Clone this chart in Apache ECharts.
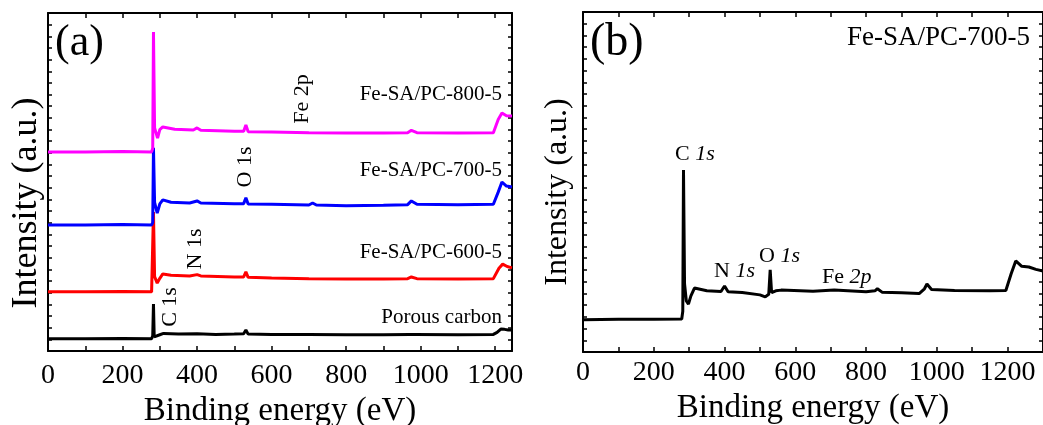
<!DOCTYPE html>
<html>
<head>
<meta charset="utf-8">
<script src="https://cdn.jsdelivr.net/npm/echarts@6/dist/echarts.min.js"></script>
<style>
html, body { margin: 0; padding: 0; background: #fff; }
#chart { width: 1043px; height: 425px; }
</style>
</head>
<body>
<div id="chart"></div>
<script>
// panel (a): survey spectra, stacked, [binding energy, intensity]
const porousCarbon = [[0,3.6],[100,3.6],[200,3.7],[278,3.6],[281,4.5],[283,13.9],[285,4.2],[290,4.0],[300,4.8],[310,5.2],[350,5.0],[400,5.1],[450,4.9],[500,5.0],[525,5.1],[531,6.2],[537,5.0],[600,4.9],[700,4.9],[800,4.8],[900,4.8],[970,4.9],[975,5.3],[985,4.9],[1100,4.8],[1195,4.9],[1205,5.5],[1215,6.5],[1225,6.4],[1235,6.2],[1245,6.2]]
const fe600 = [[0,17.5],[100,17.5],[200,17.6],[278,17.5],[281,18],[283,41.1],[286,22],[293,20.1],[300,21.5],[308,22.8],[330,22.4],[380,22.2],[400,22.6],[410,22.2],[500,21.9],[525,21.9],[531,23.4],[537,21.8],[600,21.6],[700,21.4],[800,21.3],[900,21.3],[965,21.4],[975,21.9],[990,21.4],[1100,21.3],[1195,21.4],[1210,24.5],[1220,25.7],[1232,25.0],[1245,24.6]]
const fe700 = [[0,37.3],[100,37.3],[200,37.4],[278,37.3],[281,38],[283,60.1],[286,44],[293,40.8],[300,43.5],[308,44.7],[330,44.0],[380,43.8],[400,44.4],[410,43.8],[500,43.6],[525,43.6],[531,45.3],[537,43.5],[600,43.4],[700,43.2],[710,43.8],[720,43.2],[800,43.0],[900,43.1],[965,43.3],[975,44.4],[990,43.4],[1100,43.3],[1195,43.4],[1208,47],[1218,50],[1230,48.8],[1245,48.5]]
const fe800 = [[0,58.9],[100,58.9],[200,59.0],[278,58.9],[281,60],[283,94.4],[286,66],[294,63],[300,65.5],[308,66.3],[340,65.6],[390,65.4],[400,66.0],[410,65.3],[500,65.0],[525,65.0],[531,66.9],[537,64.9],[600,64.8],[700,64.6],[800,64.5],[900,64.5],[965,64.6],[975,65.3],[990,64.6],[1100,64.5],[1195,64.6],[1208,68.5],[1218,70.4],[1230,69.6],[1245,69.5]]

// panel (b): Fe-SA/PC-700-5 alone
const fe700Single = [[0,9.5],[100,9.6],[200,9.6],[279,9.7],[282,12],[284,53.5],[287,20],[292,15],[298,14.1],[305,16.5],[315,18.8],[350,18.0],[390,17.8],[400,19.4],[410,17.7],[450,17.5],[500,16.8],[515,16.2],[525,17],[529,24.2],[533,17.5],[545,18],[560,18.2],[650,17.9],[710,18.2],[800,17.7],[825,18],[832,18.6],[845,17.6],[900,17.4],[950,17.2],[965,18.6],[972,20],[985,18.4],[1050,18.1],[1150,18.0],[1195,18.1],[1210,23],[1223,26.8],[1240,25.2],[1260,25],[1280,24.3],[1300,23.8]]

const seriesA = [
    { name: 'Porous carbon', data: porousCarbon, color: '#000000' },
    { name: 'Fe-SA/PC-600-5', data: fe600, color: '#ff0000' },
    { name: 'Fe-SA/PC-700-5', data: fe700, color: '#0000ff' },
    { name: 'Fe-SA/PC-800-5', data: fe800, color: '#ff00ff' }
]
const peaksA = [
    { text: 'Fe 2p', x: 302, y: 99 },
    { text: 'O 1s', x: 245, y: 167 },
    { text: 'N 1s', x: 195, y: 249 },
    { text: 'C 1s', x: 170, y: 307 }
]
const labelsA = [
    { text: 'Fe-SA/PC-800-5', y: 94 },
    { text: 'Fe-SA/PC-700-5', y: 170 },
    { text: 'Fe-SA/PC-600-5', y: 252 },
    { text: 'Porous carbon', y: 317 }
]
const peaksB = [
    { el: 'C', orb: '1s', x: 675, y: 154 },
    { el: 'N', orb: '1s', x: 714, y: 271 },
    { el: 'O', orb: '1s', x: 759, y: 256 },
    { el: 'Fe', orb: '2p', x: 822, y: 277 }
]

const font = '"Liberation Serif", "Times New Roman", serif'
const tickStyle = { color: '#000', width: 1.5 }

function xAxes (grid, max, margin, gap) {
    let base = {
        type: 'value', gridIndex: grid, min: 0, max: max, interval: 200,
        axisLine: { onZero: false, lineStyle: { color: '#000', width: 2 } },
        axisTick: { inside: true, length: 5, lineStyle: tickStyle },
        minorTick: { show: true, splitNumber: 2, length: 5, lineStyle: tickStyle },
        splitLine: { show: false }, minorSplitLine: { show: false }
    }
    return [
        Object.assign({}, base, {
            position: 'bottom',
            axisLabel: { fontFamily: font, fontSize: 28, color: '#000', margin: margin, showMaxLabel: false, formatter: v => String(v) },
            name: 'Binding energy (eV)', nameLocation: 'middle', nameGap: gap,
            nameTextStyle: { fontFamily: font, fontSize: 33, color: '#000' }
        }),
        Object.assign({}, base, { position: 'top', axisLabel: { show: false } })
    ]
}

function yAxes (grid) {
    let base = {
        type: 'value', gridIndex: grid, min: 0, max: 100, interval: 100 / 29,
        axisLine: { show: true, onZero: false, lineStyle: { color: '#000', width: 2 } },
        axisTick: { show: true, inside: true, length: 4, lineStyle: tickStyle },
        axisLabel: { show: false },
        splitLine: { show: false }
    }
    return [
        Object.assign({}, base, { position: 'left' }),
        Object.assign({}, base, { position: 'right' })
    ]
}

function text (t, x, y, size, extra) {
    return Object.assign({
        type: 'text', x: x, y: y,
        style: { text: t, fontFamily: font, fontSize: size, fill: '#000', textAlign: 'left', textVerticalAlign: 'middle' }
    }, extra || {})
}

function rotated (t, x, y, size) {
    let el = text(t, x, y, size, { rotation: Math.PI / 2 })
    el.style.textAlign = 'center'
    return el
}

let graphics = [
    text('(a)', 55, 43, 44),
    text('(b)', 590, 43, 46),
    rotated('Intensity (a.u.)', 27, 203, 36),
    rotated('Intensity (a.u.)', 558, 192, 32)
]
peaksA.forEach(p => graphics.push(rotated(p.text, p.x, p.y, 22)))
labelsA.forEach(l => {
    let el = text(l.text, 502, l.y, 21)
    el.style.textAlign = 'right'
    graphics.push(el)
})
let title = text('Fe-SA/PC-700-5', 1030, 38, 27)
title.style.textAlign = 'right'
graphics.push(title)
peaksB.forEach(p => {
    let el = text(`{n|${p.el} }{i|${p.orb}}`, p.x, p.y, 22)
    el.style.rich = {
        n: { fontFamily: font, fontSize: 22, fill: '#000' },
        i: { fontFamily: font, fontSize: 22, fontStyle: 'italic', fill: '#000' }
    }
    graphics.push(el)
})

let series = seriesA.map(s => ({
    name: s.name, type: 'line', xAxisIndex: 0, yAxisIndex: 0,
    data: s.data, showSymbol: false, symbol: 'none',
    lineStyle: { color: s.color, width: 3 }, z: 3
}))
series.push({
    name: 'Fe-SA/PC-700-5 survey', type: 'line', xAxisIndex: 2, yAxisIndex: 2,
    data: fe700Single, showSymbol: false, symbol: 'none',
    lineStyle: { color: '#000', width: 3 }, z: 3
})

const chart = echarts.init(document.getElementById('chart'))
chart.setOption({
    animation: false,
    backgroundColor: '#fff',
    grid: [
        { left: 48, top: 13, right: 531, bottom: 74, outerBoundsMode: 'none' },
        { left: 583, top: 12, right: 0, bottom: 73, outerBoundsMode: 'none' }
    ],
    xAxis: xAxes(0, 1245, 11, 36).concat(xAxes(1, 1300, 7, 32)),
    yAxis: yAxes(0).concat(yAxes(1)),
    graphic: graphics,
    series: series
})
</script>
</body>
</html>
